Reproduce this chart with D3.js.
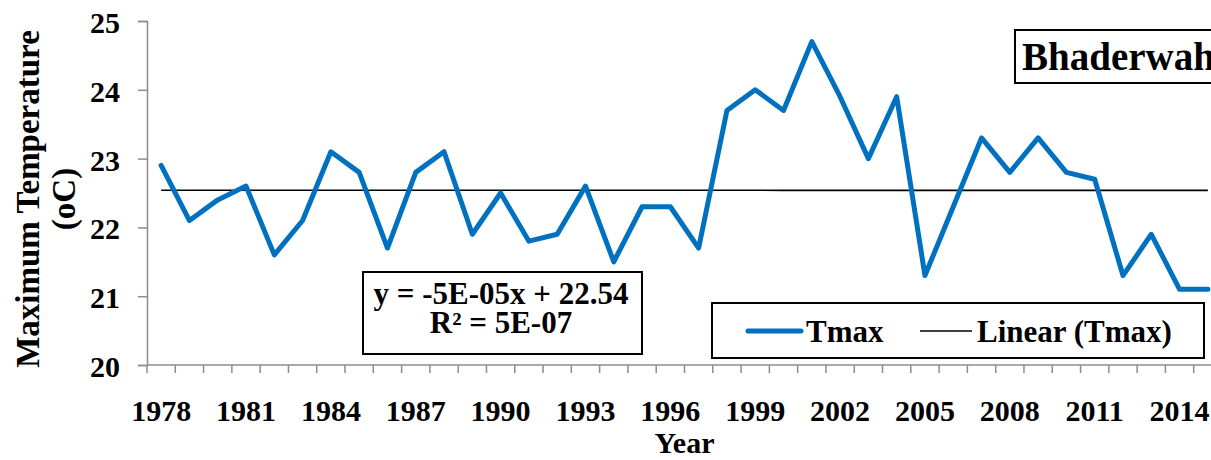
<!DOCTYPE html>
<html>
<head>
<meta charset="utf-8">
<script src="https://cdn.jsdelivr.net/npm/d3@7"></script>
<style>
  html, body { margin: 0; padding: 0; background: #fff; }
  svg { display: block; }
  text { font-family: "Liberation Serif", "Times New Roman", serif; font-weight: bold; fill: #000; }
</style>
</head>
<body>
<svg id="chart" width="1211" height="460"></svg>
<script>
// ---- data ----
const years = d3.range(1978, 2016);
const tmax = [22.9, 22.1, 22.4, 22.6, 21.6, 22.1, 23.1, 22.8, 21.7, 22.8,
              23.1, 21.9, 22.5, 21.8, 21.9, 22.6, 21.5, 22.3, 22.3, 21.7,
              23.7, 24.0, 23.7, 24.7, 23.9, 23.0, 23.9, 21.3, 22.3, 23.3,
              22.8, 23.3, 22.8, 22.7, 21.3, 21.9, 21.1, 21.1];
const yTicks = [20, 21, 22, 23, 24, 25];
const xLabelYears = [1978, 1981, 1984, 1987, 1990, 1993, 1996, 1999, 2002, 2005, 2008, 2011, 2014];
const trendSlope = -5e-05;
const trendIntercept = 22.54;
const equationLines = ["y = -5E-05x + 22.54", "R² = 5E-07"];
const stationName = "Bhaderwah";
const seriesName = "Tmax";
const trendName = "Linear (Tmax)";

// ---- layout ----
const svg = d3.select("#chart");
const pL = 147, pR = 1222, pT = 21, pB = 365;
const axisColor = "#8c8c8c";
const blue = "#0070C0";

const x = d3.scaleBand().domain(years).range([pL, pR]).padding(0);
const cx = d => x(d) + x.bandwidth() / 2;
const y = d3.scaleLinear().domain([20, 25]).range([pB, pT]);

// y axis
const yAxis = svg.append("g").attr("transform", `translate(${pL},0)`)
  .call(d3.axisLeft(y).tickValues(yTicks).tickSize(9).tickPadding(18).tickFormat(d3.format("d")));
yAxis.select(".domain").attr("stroke", axisColor).attr("stroke-width", 1.5);
yAxis.selectAll(".tick line").attr("stroke", axisColor).attr("stroke-width", 1.5);
yAxis.selectAll(".tick text").attr("font-size", 30).attr("dy", "0.38em")
  .style("font-family", "Liberation Serif").style("font-weight", "bold").attr("fill", "#000");

// x axis (category axis, ticks between categories)
const xg = svg.append("g");
xg.append("line").attr("x1", pL).attr("x2", pR).attr("y1", pB).attr("y2", pB)
  .attr("stroke", axisColor).attr("stroke-width", 1.5);
const edges = years.map(d => x(d)).concat([pR]);
xg.selectAll("line.tk").data(edges).enter().append("line").attr("class", "tk")
  .attr("x1", d => d).attr("x2", d => d).attr("y1", pB).attr("y2", pB + 8)
  .attr("stroke", axisColor).attr("stroke-width", 1.5);
xg.selectAll("text.xl").data(xLabelYears).enter().append("text").attr("class", "xl")
  .attr("x", d => cx(d)).attr("y", 421).attr("text-anchor", "middle").attr("font-size", 30)
  .text(d => d);

// axis titles
svg.append("text").attr("x", (pL + pR) / 2).attr("y", 453).attr("text-anchor", "middle")
  .attr("font-size", 30).text("Year");
svg.append("text").attr("transform", "translate(39,199) rotate(-90)").attr("text-anchor", "middle")
  .attr("font-size", 33).text("Maximum Temperature");
svg.append("text").attr("transform", "translate(75,199) rotate(-90)").attr("text-anchor", "middle")
  .attr("font-size", 33).text("(oC)");

// trend line
const trend = years.map((yr, i) => ({ yr, v: trendIntercept + trendSlope * (i + 1) }));
svg.append("path").datum(trend)
  .attr("d", d3.line().x(d => cx(d.yr)).y(d => y(d.v)))
  .attr("fill", "none").attr("stroke", "#000").attr("stroke-width", 1.6);

// data line
svg.append("path").datum(years.map((yr, i) => ({ yr, v: tmax[i] })))
  .attr("d", d3.line().x(d => cx(d.yr)).y(d => y(d.v)))
  .attr("fill", "none").attr("stroke", blue).attr("stroke-width", 5)
  .attr("stroke-linejoin", "round").attr("stroke-linecap", "round");

// equation box
svg.append("rect").attr("x", 363).attr("y", 272).attr("width", 279).attr("height", 82)
  .attr("fill", "#fff").attr("stroke", "#000").attr("stroke-width", 2);
svg.selectAll("text.eq").data(equationLines).enter().append("text").attr("class", "eq")
  .attr("x", 501).attr("y", (d, i) => 304 + i * 29).attr("text-anchor", "middle")
  .attr("font-size", 31).text(d => d);

// legend
const lg = svg.append("g");
lg.append("rect").attr("x", 712).attr("y", 303).attr("width", 492).attr("height", 55)
  .attr("fill", "#fff").attr("stroke", "#000").attr("stroke-width", 2);
lg.append("line").attr("x1", 748).attr("x2", 801).attr("y1", 331).attr("y2", 331)
  .attr("stroke", blue).attr("stroke-width", 5).attr("stroke-linecap", "round");
lg.append("text").attr("x", 806).attr("y", 342).attr("font-size", 31).text(seriesName);
lg.append("line").attr("x1", 920).attr("x2", 972).attr("y1", 331).attr("y2", 331)
  .attr("stroke", "#000").attr("stroke-width", 1.6);
lg.append("text").attr("x", 977).attr("y", 342).attr("font-size", 31).text(trendName);

// station title box
svg.append("rect").attr("x", 1015).attr("y", 30).attr("width", 220).attr("height", 53)
  .attr("fill", "#fff").attr("stroke", "#000").attr("stroke-width", 2);
svg.append("text").attr("x", 1022).attr("y", 70).attr("font-size", 39).text(stationName);
</script>
</body>
</html>
